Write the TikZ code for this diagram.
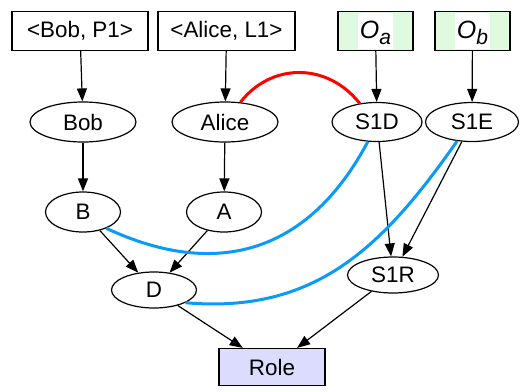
\documentclass[tikz,border=0pt]{standalone}
\usepackage{fontspec}
\setmainfont{Liberation Sans}
\usepackage{xcolor}
\usepackage{tikz}
\usetikzlibrary{arrows.meta,shapes.geometric}

\definecolor{objgreen}{HTML}{DFFADF}
\definecolor{rolefill}{HTML}{DCDCFF}
\definecolor{linkblue}{HTML}{0A9AF8}

\newcommand{\objlabel}[1]{{\setlength{\fboxsep}{0pt}\colorbox{white}{\hspace{1pt}\rule[-5.5pt]{0pt}{18pt}\fontsize{12.5pt}{14pt}\selectfont\textit{O}\raisebox{-3pt}{\fontsize{10.5pt}{11pt}\selectfont\textit{#1}}\hspace{1pt}}}}

\tikzset{
  rec/.style={draw, rectangle, inner sep=0pt, minimum height=19.5pt, line width=0.6pt},
  ell/.style={draw, ellipse, inner sep=0pt, minimum height=20pt, line width=0.6pt},
  arr/.style={line width=0.6pt, -{Triangle[length=6.5pt,width=5pt]}},
}

\begin{document}
\begin{tikzpicture}[x=0.5pt,y=-0.5pt,font=\fontsize{11.2pt}{13pt}\selectfont]
          \useasboundingbox (0,0) rectangle (524,391);

          \node[rec, minimum width=68pt] (bobbox) at (80,31) {<Bob, P1>};
          \node[rec, minimum width=68.5pt] (alicebox) at (226.5,31) {<Alice, L1>};
          \node[rec, fill=objgreen, minimum width=37.5pt] (oa) at (375.5,31) {\objlabel{a}};
          \node[rec, fill=objgreen, minimum width=37.5pt] (ob) at (472.5,31) {\objlabel{b}};

          \node[ell, minimum width=53pt] (bob) at (83,122) {Bob};
          \node[ell, minimum width=53pt] (alice) at (225,122) {Alice};
          \node[ell, minimum width=45pt, minimum height=19.5pt] (s1d) at (377,122) {S1D};
          \node[ell, minimum width=46.5pt, minimum height=19.5pt] (s1e) at (472,122) {S1E};

          \node[ell, minimum width=37.5pt] (b) at (83,212) {B};
          \node[ell, minimum width=37.5pt] (a) at (224,212) {A};
          \node[ell, minimum width=42.5pt, minimum height=18pt] (d) at (154,290) {D};
          \node[ell, minimum width=45.5pt, minimum height=18pt] (s1r) at (393,275) {S1R};

          \node[rec, fill=rolefill, minimum width=53pt, minimum height=18.5pt] (role) at (272,367) {Role};

          \draw[arr] (bobbox) -- (bob);
          \draw[arr] (alicebox) -- (alice);
          \draw[arr] (oa) -- (s1d);
          \draw[arr] (ob) -- (s1e);
          \draw[arr] (bob) -- (b);
          \draw[arr] (alice) -- (a);
          \draw[arr] (b) -- (d);
          \draw[arr] (a) -- (d);
          \draw[arr] (s1d) -- (s1r);
          \draw[arr] (s1e) -- (s1r);
          \draw[arr] (d) -- (role);
          \draw[arr] (s1r) -- (role);

          % conflict and binding links
          \draw[red, line width=1.5pt] (alice.52) to[out=52,in=128,looseness=1.1] (s1d.133);
          \draw[linkblue, line width=1.5pt] (b.-35) to[out=-25,in=-118,looseness=1.15] (s1d.-115);
          \draw[linkblue, line width=1.5pt] (d.-22) to[out=-5,in=-125,looseness=1.05] (s1e.-128);
        \end{tikzpicture}
\end{document}
